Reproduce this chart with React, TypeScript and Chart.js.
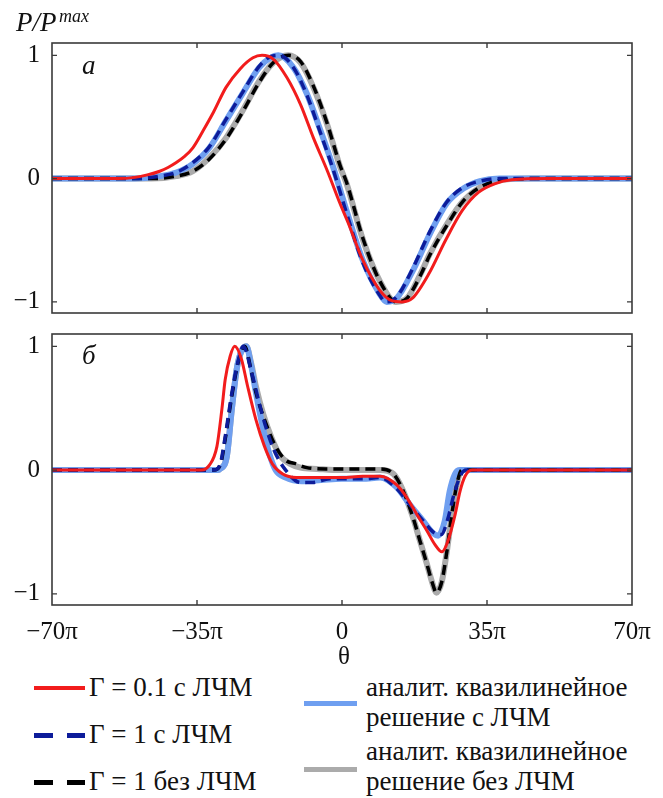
import React, { useEffect, useRef } from 'react';
import { Chart, registerables } from 'chart.js';

Chart.register(...registerables);

// ---------- axes ----------
const X_MIN = -70;
const X_MAX = 70;
const X_TICKS = [-70, -35, 0, 35, 70];
const X_TICK_LABELS = ['−70π', '−35π', '0', '35π', '70π'];
const Y_MIN = -1.09;
const Y_MAX = 1.1;
const Y_TICKS = [-1, 0, 1];
const Y_TICK_LABELS = ['−1', '0', '1'];

// ---------- panel а (top) ----------
const TOP_RED_X = [-70, -54, -50, -47, -44, -42, -40, -38, -36, -33.5, -31, -28, -24.6, -21.5, -19.3, -16.6, -13.3, -10, -6.9, -3.5, -0.5, 1.5, 5, 9, 12, 14.5, 17, 21, 25, 29, 33, 37, 41, 50, 70];
const TOP_RED_Y = [0, 0, 0.01, 0.03, 0.06, 0.09, 0.13, 0.18, 0.25, 0.39, 0.54, 0.74, 0.89, 0.98, 1, 0.97, 0.82, 0.6, 0.33, 0.06, -0.2, -0.36, -0.66, -0.9, -0.99, -1, -0.97, -0.77, -0.5, -0.26, -0.11, -0.04, -0.01, 0, 0];

const TOP_LBLUE_X = [-70, -50, -44, -40, -36, -32, -28, -24, -20, -17.3, -15.4, -11.7, -8.5, -5.3, -2.1, 1.1, 5, 9, 10.8, 13.2, 17.2, 21.2, 25.3, 29.3, 33.3, 38, 70];
const TOP_LBLUE_Y = [0, 0, 0.02, 0.05, 0.12, 0.25, 0.47, 0.69, 0.9, 0.98, 1, 0.9, 0.69, 0.4, 0.09, -0.26, -0.66, -0.93, -1, -0.97, -0.74, -0.45, -0.2, -0.08, -0.02, 0, 0];

const TOP_DBLUE_X = [-70, -50, -44, -40, -36, -32, -28, -24, -20, -17.3, -15.2, -11.7, -8.5, -5.3, -2.1, 1.1, 5, 9, 10.6, 13.2, 17.2, 21.2, 25.3, 29.3, 33.3, 38, 70];
const TOP_DBLUE_Y = [0, 0, 0.02, 0.05, 0.13, 0.26, 0.48, 0.7, 0.91, 0.99, 1, 0.9, 0.68, 0.38, 0.07, -0.28, -0.68, -0.94, -1, -0.96, -0.72, -0.43, -0.19, -0.07, -0.02, 0, 0];

const TOP_GREY_X = [-70, -46, -40, -36, -32, -28, -24, -20, -16.6, -13, -10, -6.9, -3.7, -0.5, 1.1, 5.1, 9.1, 13, 15.7, 19, 21.2, 25.3, 29.3, 33.3, 37.3, 45, 70];
const TOP_GREY_Y = [0, 0, 0.02, 0.06, 0.17, 0.33, 0.55, 0.79, 0.94, 1, 0.94, 0.74, 0.45, 0.1, -0.04, -0.5, -0.83, -1, -0.97, -0.77, -0.61, -0.37, -0.18, -0.07, -0.02, 0, 0];

const TOP_BLACK_X = [-70, -46, -40, -36, -32, -28, -24, -20, -16.6, -12.8, -10, -6.9, -3.7, -0.5, 1.1, 5.1, 9.1, 13.2, 15.7, 19, 21.2, 25.3, 29.3, 33.3, 37.3, 45, 70];
const TOP_BLACK_Y = [0, 0, 0.02, 0.06, 0.16, 0.32, 0.54, 0.78, 0.94, 1, 0.95, 0.75, 0.46, 0.11, -0.03, -0.49, -0.83, -1, -0.97, -0.78, -0.62, -0.38, -0.18, -0.07, -0.02, 0, 0];

// ---------- panel б (bottom) ----------
const BOT_RED_X = [-70, -34, -32, -30.2, -29, -28.2, -27, -25.9, -24.3, -22.8, -20.8, -18.8, -16.8, -14.4, -11, -5, 0, 5, 9.2, 13.2, 15.6, 18.1, 20.5, 22.4, 24.1, 25.6, 27.3, 28.5, 29.7, 31.4, 35, 70];
const BOT_RED_Y = [0, 0, 0.04, 0.19, 0.49, 0.73, 0.92, 1, 0.9, 0.68, 0.41, 0.2, 0.05, -0.03, -0.06, -0.06, -0.06, -0.05, -0.05, -0.12, -0.22, -0.36, -0.49, -0.6, -0.66, -0.57, -0.36, -0.17, -0.05, 0, 0, 0];

const BOT_LBLUE_X = [-70, -30, -29.4, -27.8, -26.6, -25.4, -24.3, -23.1, -21.9, -20.8, -19.2, -17.6, -16, -13.6, -9.7, -5, 0, 5, 9.2, 13.2, 16.4, 19.6, 22, 23.2, 24.8, 26, 27.3, 28.5, 35, 70];
const BOT_LBLUE_Y = [0, 0, 0.01, 0.11, 0.49, 0.82, 0.96, 1, 0.84, 0.63, 0.36, 0.14, 0, -0.06, -0.09, -0.08, -0.07, -0.07, -0.06, -0.14, -0.28, -0.41, -0.51, -0.53, -0.41, -0.17, -0.03, 0, 0, 0];

const BOT_DBLUE_X = [-70, -31, -29.4, -28.2, -26.6, -25, -23.8, -21.9, -20.2, -18.4, -16.4, -13.6, -10, -7, -3, 0, 5, 9.2, 13.2, 16.4, 19.6, 22, 24, 25.5, 27, 28.5, 30, 35, 70];
const BOT_DBLUE_Y = [0, 0, 0.05, 0.27, 0.62, 0.89, 1, 0.8, 0.57, 0.35, 0.16, 0, -0.1, -0.1, -0.07, -0.07, -0.07, -0.06, -0.15, -0.28, -0.41, -0.5, -0.52, -0.4, -0.2, -0.05, 0, 0, 0];

const BOT_BLACK_X = [-70, -31, -29.4, -28.2, -26.6, -25, -23.5, -21.9, -20.8, -18.4, -16, -13.6, -11, -8.5, -4, 0, 5, 9.2, 12.4, 14.8, 17.2, 18.8, 20.5, 21.7, 22.8, 24.1, 25.3, 26.5, 27.7, 28.9, 35, 70];
const BOT_BLACK_Y = [0, 0, 0.04, 0.25, 0.6, 0.88, 1, 0.8, 0.63, 0.38, 0.19, 0.08, 0.05, 0.02, 0.01, 0.01, 0.01, 0.01, -0.03, -0.17, -0.39, -0.57, -0.76, -0.9, -0.99, -0.9, -0.66, -0.36, -0.12, 0, 0, 0];

const BOT_GREY_X = [-70, -30, -29.4, -27.8, -26.6, -25.4, -24.3, -23.1, -21.9, -20.8, -19, -17, -15, -12.5, -10, -6, 0, 5, 9.2, 12.4, 14.8, 17.2, 18.8, 20.5, 21.7, 22.8, 24.1, 25.3, 26.5, 27.7, 28.9, 35, 70];
const BOT_GREY_Y = [0, 0, 0.01, 0.11, 0.49, 0.82, 0.96, 1, 0.86, 0.68, 0.45, 0.26, 0.12, 0.05, 0.02, 0.01, 0, 0, 0, -0.03, -0.17, -0.39, -0.57, -0.76, -0.9, -0.99, -0.9, -0.66, -0.36, -0.12, 0, 0, 0];

// ---------- legend ----------
const LEGEND_LEFT = ['Γ = 0.1 с ЛЧМ', 'Γ = 1 с ЛЧМ', 'Γ = 1 без ЛЧМ'];
const LEGEND_RIGHT = [
  ['аналит. квазилинейное', 'решение с ЛЧМ'],
  ['аналит. квазилинейное', 'решение без ЛЧМ'],
];

const FONT = "'Liberation Serif', 'Times New Roman', serif";
const RED = '#f21c1c';
const LBLUE = '#6f9ff0';
const DBLUE = '#0d1c9a';
const GREY = '#ababab';
const BLACK = '#000000';

const pts = (xs: number[], ys: number[]) => xs.map((x, i) => ({ x, y: ys[i] }));

function makeDatasets(p: any) {
  const base = { pointRadius: 0, cubicInterpolationMode: 'monotone', fill: false, borderCapStyle: 'butt', borderJoinStyle: 'round' };
  return [
    { ...base, label: 'red', data: pts(p.redX, p.redY), borderColor: RED, borderWidth: 3 },
    { ...base, label: 'dblue', data: pts(p.dbX, p.dbY), borderColor: DBLUE, borderWidth: 3.5, borderDash: [10, 6] },
    { ...base, label: 'black', data: pts(p.bkX, p.bkY), borderColor: BLACK, borderWidth: 3.5, borderDash: [10, 6] },
    { ...base, label: 'lblue', data: pts(p.lbX, p.lbY), borderColor: LBLUE, borderWidth: 6 },
    { ...base, label: 'grey', data: pts(p.grX, p.grY), borderColor: GREY, borderWidth: 6 },
  ];
}

const framePlugin = {
  id: 'frame',
  afterDatasetsDraw(chart: any) {
    const { ctx, chartArea: a, scales } = chart;
    const xs = scales.x;
    const ys = scales.y;
    ctx.save();
    ctx.strokeStyle = '#3a3a3a';
    ctx.lineWidth = 1.6;
    ctx.strokeRect(a.left, a.top, a.right - a.left, a.bottom - a.top);
    ctx.lineWidth = 1.4;
    const L = 5;
    ctx.beginPath();
    X_TICKS.forEach((v) => {
      if (v <= xs.min || v >= xs.max) return;
      const x = xs.getPixelForValue(v);
      ctx.moveTo(x, a.top);
      ctx.lineTo(x, a.top + L);
      ctx.moveTo(x, a.bottom);
      ctx.lineTo(x, a.bottom - L);
    });
    Y_TICKS.forEach((v) => {
      const y = ys.getPixelForValue(v);
      ctx.moveTo(a.left, y);
      ctx.lineTo(a.left + L, y);
      ctx.moveTo(a.right, y);
      ctx.lineTo(a.right - L, y);
    });
    ctx.stroke();
    ctx.restore();
  },
};

function makeConfig(datasets: any[], showX: boolean, padTop: number, padBottom: number, xAxisHeight: number) {
  return {
    type: 'line',
    data: { datasets },
    options: {
      responsive: false,
      animation: false,
      events: [],
      layout: { padding: { top: padTop, right: 31, bottom: padBottom, left: 0 } },
      plugins: { legend: { display: false }, tooltip: { enabled: false }, title: { display: false } },
      scales: {
        x: {
          type: 'linear',
          display: showX,
          min: X_MIN,
          max: X_MAX,
          afterBuildTicks: (s: any) => { s.ticks = X_TICKS.map((v) => ({ value: v })); },
          afterFit: (s: any) => { s.height = xAxisHeight; },
          grid: { display: false, drawTicks: false },
          border: { display: false },
          ticks: {
            autoSkip: false,
            maxRotation: 0,
            padding: 12,
            color: '#111',
            font: { family: FONT, size: 25 },
            callback: (v: any) => X_TICK_LABELS[X_TICKS.indexOf(Number(v))] ?? '',
          },
        },
        y: {
          type: 'linear',
          min: Y_MIN,
          max: Y_MAX,
          afterBuildTicks: (s: any) => { s.ticks = Y_TICKS.map((v) => ({ value: v })); },
          afterFit: (s: any) => { s.width = 52; },
          grid: { display: false, drawTicks: false },
          border: { display: false },
          ticks: {
            autoSkip: false,
            padding: 12,
            color: '#111',
            font: { family: FONT, size: 25 },
            callback: (v: any) => Y_TICK_LABELS[Y_TICKS.indexOf(Number(v))] ?? '',
          },
        },
      },
    },
    plugins: [framePlugin],
  } as any;
}

const abs = (extra: React.CSSProperties): React.CSSProperties => ({
  position: 'absolute',
  fontFamily: FONT,
  color: '#111',
  lineHeight: 1,
  whiteSpace: 'nowrap',
  ...extra,
});

export default function App() {
  const topRef = useRef<HTMLCanvasElement | null>(null);
  const botRef = useRef<HTMLCanvasElement | null>(null);

  useEffect(() => {
    const top = new Chart(
      topRef.current as HTMLCanvasElement,
      makeConfig(
        makeDatasets({
          redX: TOP_RED_X, redY: TOP_RED_Y,
          dbX: TOP_DBLUE_X, dbY: TOP_DBLUE_Y,
          bkX: TOP_BLACK_X, bkY: TOP_BLACK_Y,
          lbX: TOP_LBLUE_X, lbY: TOP_LBLUE_Y,
          grX: TOP_GREY_X, grY: TOP_GREY_Y,
        }),
        false, 43, 27, 0,
      ),
    );
    const bot = new Chart(
      botRef.current as HTMLCanvasElement,
      makeConfig(
        makeDatasets({
          redX: BOT_RED_X, redY: BOT_RED_Y,
          dbX: BOT_DBLUE_X, dbY: BOT_DBLUE_Y,
          bkX: BOT_BLACK_X, bkY: BOT_BLACK_Y,
          lbX: BOT_LBLUE_X, lbY: BOT_LBLUE_Y,
          grX: BOT_GREY_X, grY: BOT_GREY_Y,
        }),
        true, 27, 0, 60,
      ),
    );
    return () => {
      top.destroy();
      bot.destroy();
    };
  }, []);

  const lineDiv = (left: number, width: number, y: number, h: number, color: string) => (
    <div style={{ position: 'absolute', left, width, top: y - h / 2, height: h, background: color }} />
  );

  return (
    <div style={{ position: 'fixed', left: 0, top: 0, width: 663, height: 798, background: '#fff', overflow: 'hidden' }}>
      <canvas ref={topRef} width={663} height={340} style={{ position: 'absolute', left: 0, top: 0, width: 663, height: 340 }} />
      <canvas ref={botRef} width={663} height={358} style={{ position: 'absolute', left: 0, top: 307, width: 663, height: 358 }} />

      {/* axis title */}
      <div style={abs({ left: 16, top: 9, fontSize: 27, fontStyle: 'italic' })}>P/P</div>
      <div style={abs({ left: 59, top: 7, fontSize: 18, fontStyle: 'italic' })}>max</div>

      {/* panel labels */}
      <div style={abs({ left: 82, top: 52, fontSize: 27, fontStyle: 'italic' })}>а</div>
      <div style={abs({ left: 82, top: 342, fontSize: 27, fontStyle: 'italic' })}>б</div>

      {/* x axis title */}
      <div style={abs({ left: 324, width: 40, textAlign: 'center', top: 643, fontSize: 25 })}>θ</div>

      {/* legend left column */}
      {lineDiv(34, 51, 688, 4, RED)}
      {lineDiv(34, 19, 735, 5, DBLUE)}
      {lineDiv(67, 18, 735, 5, DBLUE)}
      {lineDiv(34, 19, 782, 5, BLACK)}
      {lineDiv(67, 18, 782, 5, BLACK)}
      <div style={abs({ left: 89, top: 674, fontSize: 27 })}>{LEGEND_LEFT[0]}</div>
      <div style={abs({ left: 89, top: 721, fontSize: 27 })}>{LEGEND_LEFT[1]}</div>
      <div style={abs({ left: 89, top: 768, fontSize: 27 })}>{LEGEND_LEFT[2]}</div>

      {/* legend right column */}
      {lineDiv(304, 53, 703, 5, LBLUE)}
      {lineDiv(304, 53, 769, 5, GREY)}
      <div style={abs({ left: 366, top: 674, fontSize: 27 })}>{LEGEND_RIGHT[0][0]}</div>
      <div style={abs({ left: 366, top: 704, fontSize: 27 })}>{LEGEND_RIGHT[0][1]}</div>
      <div style={abs({ left: 366, top: 738, fontSize: 27 })}>{LEGEND_RIGHT[1][0]}</div>
      <div style={abs({ left: 366, top: 768, fontSize: 27 })}>{LEGEND_RIGHT[1][1]}</div>
    </div>
  );
}
